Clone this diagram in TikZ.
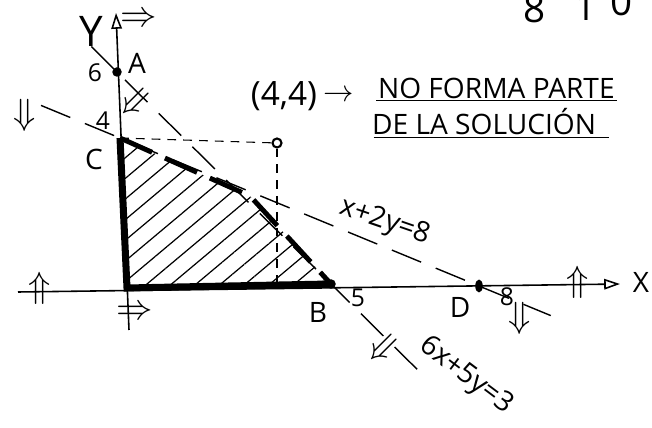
\documentclass[tikz,border=0pt]{standalone}
\usepackage{amsmath}
\usepackage{fontspec}
\setmainfont{Open Sans}
\usetikzlibrary{positioning, shapes.geometric, patterns.meta, arrows.meta, calc}

\begin{document}
\begin{tikzpicture}[x=0.02cm, y=-0.02cm,
    dot/.style={circle, fill, inner sep=0pt, minimum size=0.19cm},
    lbl/.style={font=\fontsize{16}{18}\selectfont, inner sep=1pt},
    num/.style={font=\fontsize{14}{16}\selectfont, inner sep=1pt},
    hint/.style={font=\fontsize{22}{24}\selectfont, inner sep=0pt},
    axisline/.style={line width=0.9pt, -{Triangle[open, length=9pt, width=6pt, line width=0.9pt]}},
    border/.style={line width=4pt},
    cut/.style={line width=2.8pt, dash pattern=on 20pt off 8pt},
    constr/.style={line width=0.8pt, dash pattern=on 18pt off 9pt},
    guide/.style={line width=0.6pt, dash pattern=on 5pt off 4pt}]
  \useasboundingbox (0,0) rectangle (652,428);

  % Points
  \coordinate (O) at (127,288);
  \coordinate (C) at (120,138);
  \coordinate (E) at (250,196);
  \coordinate (xl) at (18,292);
  \coordinate (xr) at (620,284);
  \coordinate (yb) at (129,330);
  \coordinate (yt) at (116,13);
  \node[dot] (A) at (117,72) {};
  \node[ellipse, fill, inner sep=0pt, minimum width=0.15cm, minimum height=0.26cm] (D) at (479,286) {};
  \node[dot] (B) at (331,284) {};
  \node[circle, draw, line width=1.2pt, inner sep=0pt, minimum size=0.18cm] (P) at (277,143) {};

  % Feasible region
  \fill[pattern={Lines[angle=40, distance=9pt, line width=0.7pt]}] (O) -- (C) -- (E) -- (B) -- cycle;

  % Axes
  \draw[axisline] (xl) -- (xr);
  \draw[axisline] (yb) -- (yt);

  % Constraint lines
  \draw[constr] ($(C)!-0.22!(D)$) -- ($(C)!1.2!(D)$);
  \draw[constr] ($(A)!-0.12!(B)$) -- ($(A)!1.42!(B)$);
  \draw[guide] (C) -- (P);
  \draw[guide] (P) -- (P |- B);

  % Boundary
  \draw[border] (C) -- (O) -- (B.center);
  \draw[cut] (C) -- (E) -- (B.center);

  % Labels
  \node[font=\fontsize{24}{26}\selectfont] (ylab) at (91,31) {Y};
  \node[lbl] (xlab) at (641,282) {X};
  \node[lbl] (Alab) at (137,63) {A};
  \node[lbl] (Blab) at (318,312) {B};
  \node[lbl] (Clab) at (94,159) {C};
  \node[lbl] (Dlab) at (460,307) {D};
  \foreach \t/\px/\py in {6/95/73, 4/103/121, 5/358/298, 8/507/297}
    \node[num] (tick\t) at (\px,\py) {\t};
  \foreach \t/\px/\py in {8/535/23, 1/586/21, 0/622/16}
    \node[font=\fontsize{22}{24}\selectfont, anchor=base] (top\t) at (\px,\py) {\t};

  \node[lbl, font=\fontsize{19}{21}\selectfont] (pt) at (284,96) {(4,4)};
  \node[lbl, right=1pt of pt] (ptarrow) {$\rightarrow$};
  \node[lbl, anchor=west] (note1) at (376,88) {NO FORMA PARTE};
  \node[lbl, anchor=west] (note2) at (370,122) {DE LA SOLUCIÓN};
  \draw[line width=0.8pt] (note1.south west) -- (note1.south east);
  \draw[line width=0.8pt] ([xshift=2pt]note2.south west) -- ([xshift=6pt]note2.south east);

  \node[lbl, rotate=-19] (eq1) at (385,222) {x+2y=8};
  \node[lbl, rotate=-37] (eq2) at (466,376) {6x+5y=3};

  % Half-plane marks
  \node[hint] (h1) at (40,288) {$\Uparrow$};
  \node[hint] (h2) at (578,282) {$\Uparrow$};
  \node[hint] (h3) at (139,20) {$\Rightarrow$};
  \node[hint] (h4) at (135,313) {$\Rightarrow$};
  \node[hint] (h5) at (25,115) {$\Downarrow$};
  \node[hint] (h6) at (520,318) {$\Downarrow$};
  \node[hint, rotate=45] (h7) at (137,104) {$\Leftarrow$};
  \node[hint, rotate=45] (h8) at (385,350) {$\Leftarrow$};
\end{tikzpicture}
\end{document}
